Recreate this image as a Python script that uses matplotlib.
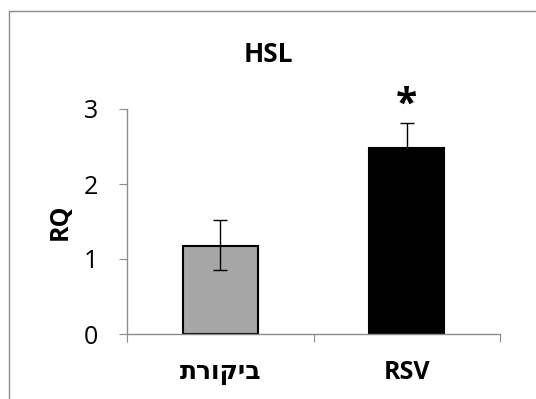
import matplotlib
matplotlib.use("Agg")
import matplotlib.pyplot as plt
from matplotlib.patches import Rectangle

plt.rcParams['font.family'] = ['Open Sans', 'DejaVu Sans']

# data
groups = ["ביקורת", "RSV"]
rq = [1.17, 2.48]
err_up = [0.35, 0.33]
err_down = [0.32, 0.33]
bar_colors = ["#a6a6a6", "#000000"]
yticks = [0, 1, 2, 3]

# matplotlib has no bidi, so hebrew is given in display order
labels = [g[::-1] if any('\u0590' <= c <= '\u05ff' for c in g) else g for g in groups]

fig = plt.figure(figsize=(5.36, 3.99), dpi=100)
# outer chart-area frame (cut by image edge on right/bottom)
fig.patches.append(Rectangle((9 / 536, -0.1), 1.2, 1 - 11 / 399 + 0.1,
                             transform=fig.transFigure, fill=False,
                             edgecolor="#8c8c8c", linewidth=1.0))

ax = fig.add_axes([127 / 536, 1 - 334 / 399, 373 / 536, 225 / 399])
x = list(range(len(groups)))
ax.bar(x, rq, width=0.4, color=bar_colors, edgecolor="black", linewidth=1.5, zorder=2)
ax.errorbar(x, rq, yerr=[err_down, err_up], fmt="none", ecolor="black",
            elinewidth=1.0, capsize=5, capthick=1.0, zorder=3)

ax.set_xlim(-0.5, 1.5)
ax.set_ylim(0, 3)
ax.set_yticks(yticks)
ax.set_xticks([-0.5, 0.5, 1.5])
ax.set_xticklabels([])
ax.set_xticks(x, minor=True)
ax.set_xticklabels(labels, minor=True, fontsize=18, fontweight="bold")
ax.tick_params(axis="x", which="minor", length=0, pad=19)
ax.tick_params(axis="x", which="major", length=6, color="#8c8c8c", direction="out")
ax.tick_params(axis="y", length=6, color="#8c8c8c", labelsize=18, pad=15)

for s in ["top", "right"]:
    ax.spines[s].set_visible(False)
for s in ["left", "bottom"]:
    ax.spines[s].set_color("#8c8c8c")
    ax.spines[s].set_linewidth(1.0)

ax.set_ylabel("RQ", fontsize=18, fontweight="bold", labelpad=8)
fig.text(0.5, 1 - 55 / 399, "HSL", ha="center", va="center", fontsize=19, fontweight="bold")
ax.text(1, rq[1] + err_up[1] - 0.02, "*", ha="center", va="bottom", fontsize=28, fontweight="bold")

fig.savefig("out.png", dpi=100)
